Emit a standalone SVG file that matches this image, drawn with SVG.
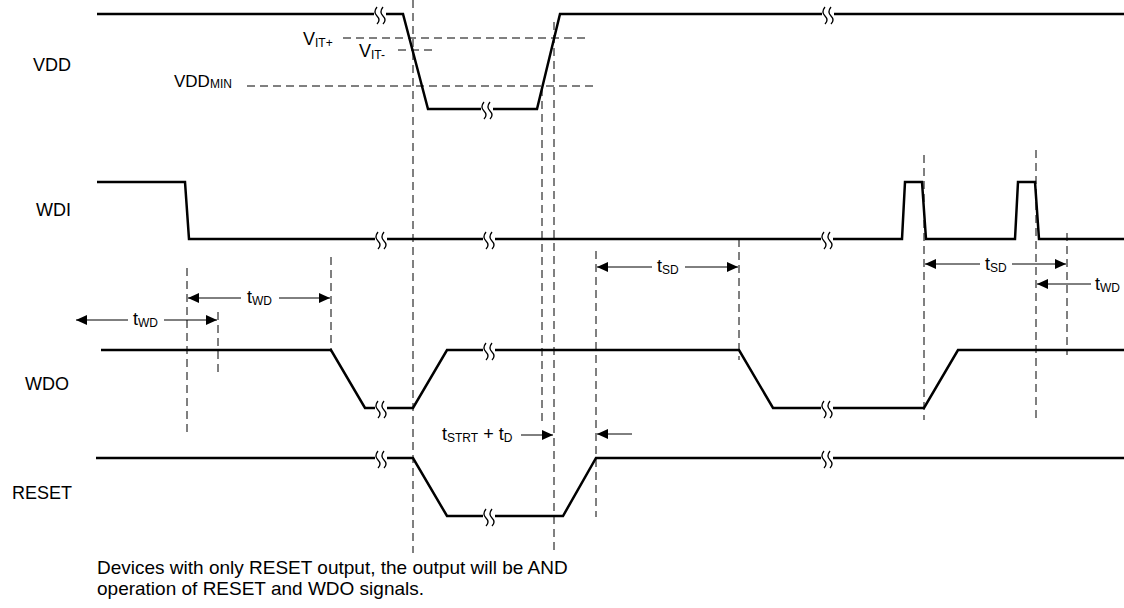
<svg xmlns="http://www.w3.org/2000/svg" xmlns:xlink="http://www.w3.org/1999/xlink" width="1124" height="608" viewBox="0 0 1124 608">
<style>
.sig{fill:none;stroke:#000;stroke-width:2.5;stroke-linejoin:miter}
.dash{fill:none;stroke:#000;stroke-width:1;stroke-dasharray:8 5}
.dim{fill:none;stroke:#000;stroke-width:1}
.t{font-family:"Liberation Sans",Arial,sans-serif;font-size:18px;fill:#000}
.row{text-anchor:end}
.sub{font-size:12px}
.note{font-size:19px}
.brkc{fill:none;stroke:#000;stroke-width:1.3}
</style>
<defs>
<marker id="ah" markerUnits="userSpaceOnUse" markerWidth="12" markerHeight="10" refX="11" refY="5" orient="auto">
<path d="M0,0 L11,5 L0,10 z" fill="#000"/>
</marker>
<g id="brk">
<rect x="-6" y="-3" width="12" height="6" fill="#fff"/>
<path class="brkc" d="M-3,-7 Q-7,-2 -3,2 Q1,6 -3,10"/>
<path class="brkc" d="M3,-7 Q-1,-2 3,2 Q7,6 3,10"/>
</g>
</defs>
<rect width="1124" height="608" fill="#fff"/>

<g id="guides">
<line class="dash" x1="413" y1="0" x2="413" y2="553"/>
<line class="dash" x1="554" y1="22" x2="554" y2="553"/>
<line class="dash" x1="542" y1="88" x2="542" y2="425"/>
<line class="dash" x1="343" y1="38" x2="585" y2="38"/>
<line class="dash" x1="398" y1="50" x2="433" y2="50"/>
<line class="dash" x1="247" y1="86" x2="595" y2="86"/>
<line class="dash" x1="187" y1="268" x2="187" y2="433"/>
<line class="dash" x1="218" y1="312" x2="218" y2="374"/>
<line class="dash" x1="331" y1="257" x2="331" y2="352"/>
<line class="dash" x1="596" y1="251" x2="596" y2="517"/>
<line class="dash" x1="739" y1="239" x2="739" y2="360"/>
<line class="dash" x1="924" y1="155" x2="924" y2="420"/>
<line class="dash" x1="1036" y1="150" x2="1036" y2="418"/>
<line class="dash" x1="1067" y1="233" x2="1067" y2="355"/>
</g>

<g id="VDD">
<text class="t row" x="71" y="71">VDD</text>
<polyline class="sig" points="97,14 403,14 428,109 537,109 560,14 1124,14"/>
<use xlink:href="#brk" x="380" y="14"/>
<use xlink:href="#brk" x="487" y="109"/>
<use xlink:href="#brk" x="828" y="14"/>
<text class="t" x="303" y="45">V<tspan class="sub" dy="2">IT+</tspan></text>
<text class="t" x="359" y="57">V<tspan class="sub" dy="2">IT-</tspan></text>
<text class="t" x="174" y="87" style="font-size:17px">VDD<tspan class="sub" dy="1">MIN</tspan></text>
</g>

<g id="WDI">
<text class="t row" x="71" y="216">WDI</text>
<polyline class="sig" points="97,182 185,182 189,239 902,239 905,182 922,182 926,239 1015,239 1018,182 1035,182 1039,239 1124,239"/>
<use xlink:href="#brk" x="381" y="239"/>
<use xlink:href="#brk" x="489" y="239"/>
<use xlink:href="#brk" x="827" y="239"/>
</g>

<g id="WDO">
<text class="t row" x="69" y="390">WDO</text>
<polyline class="sig" points="101,350 331,350 365,408 413,408 447,350 739,350 773,408 924,408 958,350 1124,350"/>
<use xlink:href="#brk" x="381" y="408"/>
<use xlink:href="#brk" x="489" y="350"/>
<use xlink:href="#brk" x="827" y="408"/>
</g>

<g id="RESET">
<text class="t row" x="72" y="499">RESET</text>
<polyline class="sig" points="96,458 413,458 447,516 563,516 596,458 1124,458"/>
<use xlink:href="#brk" x="381" y="458"/>
<use xlink:href="#brk" x="489" y="516"/>
<use xlink:href="#brk" x="827" y="458"/>
</g>

<g id="connectors">
<line class="dim" x1="241" y1="298" x2="188" y2="298" marker-end="url(#ah)"/>
<line class="dim" x1="279" y1="298" x2="330" y2="298" marker-end="url(#ah)"/>
<line class="dim" x1="128" y1="320" x2="76" y2="320" marker-end="url(#ah)"/>
<line class="dim" x1="164" y1="320" x2="217" y2="320" marker-end="url(#ah)"/>
<line class="dim" x1="652" y1="267" x2="597" y2="267" marker-end="url(#ah)"/>
<line class="dim" x1="685" y1="267" x2="738" y2="267" marker-end="url(#ah)"/>
<line class="dim" x1="980" y1="264" x2="925" y2="264" marker-end="url(#ah)"/>
<line class="dim" x1="1012" y1="264" x2="1066" y2="264" marker-end="url(#ah)"/>
<line class="dim" x1="1091" y1="284" x2="1037" y2="284" marker-end="url(#ah)"/>
<line class="dim" x1="521" y1="435" x2="553" y2="435" marker-end="url(#ah)"/>
<line class="dim" x1="632" y1="434" x2="597" y2="434" marker-end="url(#ah)"/>
</g>

<g id="labels">
<text class="t" x="247" y="303">t<tspan class="sub" dy="2">WD</tspan></text>
<text class="t" x="133" y="325">t<tspan class="sub" dy="2">WD</tspan></text>
<text class="t" x="657" y="272">t<tspan class="sub" dy="2">SD</tspan></text>
<text class="t" x="985" y="270">t<tspan class="sub" dy="2">SD</tspan></text>
<text class="t" x="1095" y="290">t<tspan class="sub" dy="2">WD</tspan></text>
<text class="t" x="442" y="440">t<tspan class="sub" dy="2">STRT</tspan><tspan dy="-2"> + t</tspan><tspan class="sub" dy="2">D</tspan></text>
</g>

<g id="note">
<text class="t note" x="97" y="574">Devices with only RESET output, the output will be AND</text>
<text class="t note" x="97" y="595">operation of RESET and WDO signals.</text>
</g>
</svg>
